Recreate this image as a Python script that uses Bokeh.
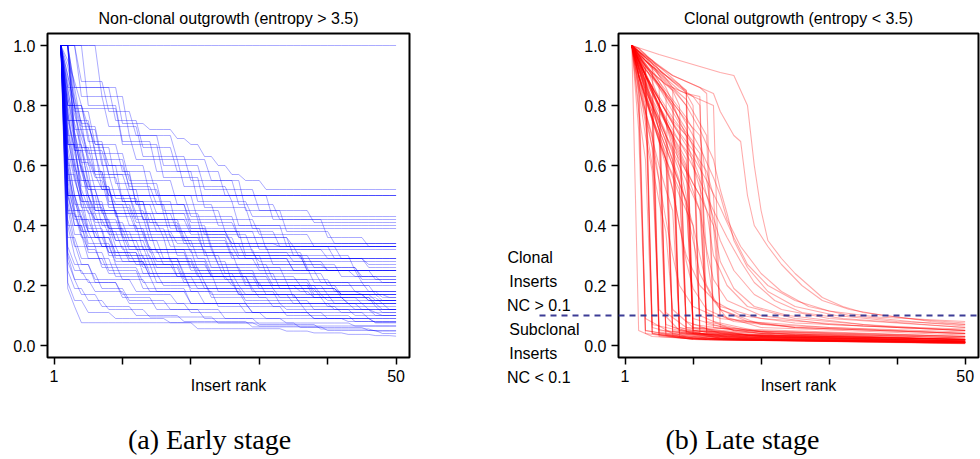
import numpy as np
from bokeh.plotting import figure
from bokeh.layouts import row, column
from bokeh.models import LinearAxis, FixedTicker, ColumnDataSource, Range1d, Span, Label
from bokeh.embed import file_html
from bokeh.resources import INLINE

# ---------------- data ----------------
RANKS = list(range(1, 51))
X_TICKS = [0, 10, 20, 30, 40, 50]
X_TICK_LABELS = {0: "1", 10: "", 20: "", 30: "", 40: "", 50: "50"}
Y_TICKS = [0.0, 0.2, 0.4, 0.6, 0.8, 1.0]
Y_TICK_LABELS = {0.0: "0.0", 0.2: "0.2", 0.4: "0.4", 0.6: "0.6", 0.8: "0.8", 1.0: "1.0"}
NC_THRESHOLD = 0.1

TITLE_A = "Non-clonal outgrowth (entropy > 3.5)"
TITLE_B = "Clonal outgrowth (entropy < 3.5)"
X_LABEL = "Insert rank"
CAPTION_A = "(a) Early stage"
CAPTION_B = "(b) Late stage"
SIDE_LINES_ABOVE = ["Clonal", "Inserts", "NC > 0.1"]
SIDE_LINES_BELOW = ["Subclonal", "Inserts", "NC < 0.1"]
SIDE_LABEL_POS = [0.213, -0.027]

# Early stage: each curve is a run-length list of (rank where a new value starts, NC value)
EARLY_STEPS = [
    [(1, 1.0)],
    [(1, 1.0), (2, 0.50)],
    [(1, 1.0), (2, 0.50)],
    [(1, 1.0), (2, 0.67), (4, 0.50)],
    [(1, 1.0), (3, 0.86), (10, 0.74), (14, 0.72), (18, 0.69), (20, 0.67), (22, 0.63), (24, 0.60), (26, 0.57), (28, 0.55), (31, 0.52)],
    [(1, 1.0), (2, 0.80), (5, 0.70), (12, 0.62), (19, 0.53), (26, 0.48), (29, 0.43)],
    [(1, 1.0), (4, 0.83), (8, 0.73), (13, 0.63), (20, 0.55), (27, 0.47), (33, 0.42)],
    [(1, 1.0), (2, 0.75), (6, 0.64), (11, 0.55), (18, 0.47), (24, 0.40)],
    [(1, 1.0), (3, 0.79), (10, 0.67), (16, 0.56), (22, 0.46), (29, 0.39)],
    [(1, 1.0), (2, 0.62), (5, 0.50), (12, 0.42), (20, 0.37), (26, 0.34)],
    [(1, 1.0), (2, 0.70), (4, 0.58), (8, 0.47), (15, 0.40), (23, 0.33)],
    [(1, 1.0), (3, 0.72), (7, 0.60), (14, 0.50), (21, 0.42), (30, 0.37), (38, 0.33)],
    [(1, 1.0), (2, 0.55), (6, 0.45), (14, 0.38), (30, 0.32)],
    [(1, 1.0), (2, 0.80), (4, 0.66), (9, 0.54), (16, 0.45), (25, 0.38), (33, 0.33), (41, 0.29)],
    [(1, 1.0), (2, 0.60), (5, 0.47), (11, 0.40), (19, 0.34), (28, 0.29)],
    [(1, 1.0), (2, 0.50), (4, 0.42), (10, 0.36), (20, 0.31), (35, 0.28)],
    [(1, 1.0), (3, 0.70), (6, 0.58), (12, 0.47), (20, 0.39), (31, 0.32), (40, 0.29), (46, 0.26)],
    [(1, 1.0), (2, 0.67), (4, 0.53), (9, 0.44), (17, 0.36), (26, 0.30), (37, 0.25)],
    [(1, 1.0), (2, 0.45), (5, 0.38), (12, 0.32), (24, 0.27), (40, 0.25)],
    [(1, 1.0), (2, 0.75), (5, 0.60), (10, 0.48), (18, 0.38), (28, 0.30), (38, 0.26), (45, 0.23)],
    [(1, 1.0), (2, 0.57), (4, 0.46), (8, 0.38), (15, 0.31), (27, 0.25), (39, 0.21)],
    [(1, 1.0), (3, 0.65), (7, 0.52), (13, 0.42), (22, 0.33), (32, 0.27), (42, 0.23), (48, 0.21)],
    [(1, 1.0), (2, 0.40), (5, 0.33), (11, 0.28), (23, 0.23), (36, 0.20)],
    [(1, 1.0), (2, 0.62), (4, 0.48), (8, 0.39), (14, 0.32), (23, 0.26), (34, 0.21), (44, 0.18)],
    [(1, 1.0), (2, 0.50), (3, 0.40), (7, 0.33), (14, 0.27), (25, 0.22), (38, 0.18)],
    [(1, 1.0), (2, 0.80), (4, 0.62), (8, 0.48), (14, 0.38), (22, 0.30), (31, 0.24), (40, 0.20), (47, 0.17)],
    [(1, 1.0), (2, 0.44), (4, 0.36), (9, 0.29), (18, 0.23), (30, 0.19), (42, 0.17)],
    [(1, 1.0), (2, 0.67), (4, 0.50), (7, 0.40), (13, 0.32), (21, 0.25), (30, 0.20), (39, 0.17), (46, 0.15)],
    [(1, 1.0), (2, 0.36), (4, 0.29), (8, 0.24), (16, 0.20), (28, 0.17), (40, 0.15)],
    [(1, 1.0), (2, 0.57), (3, 0.45), (6, 0.36), (11, 0.29), (19, 0.23), (29, 0.18), (38, 0.16), (45, 0.14)],
    [(1, 1.0), (2, 0.50), (4, 0.38), (8, 0.30), (14, 0.24), (22, 0.19), (33, 0.16), (43, 0.14)],
    [(1, 1.0), (2, 0.72), (3, 0.58), (6, 0.45), (10, 0.36), (17, 0.28), (26, 0.21), (35, 0.16), (43, 0.14), (48, 0.12)],
    [(1, 1.0), (2, 0.42), (3, 0.33), (7, 0.26), (13, 0.21), (23, 0.17), (35, 0.14), (44, 0.12)],
    [(1, 1.0), (2, 0.60), (3, 0.47), (5, 0.38), (9, 0.30), (15, 0.24), (24, 0.18), (33, 0.14), (41, 0.12), (47, 0.11)],
    [(1, 1.0), (2, 0.33), (3, 0.27), (6, 0.22), (12, 0.18), (22, 0.14), (34, 0.12), (44, 0.10)],
    [(1, 1.0), (2, 0.55), (3, 0.43), (5, 0.34), (9, 0.27), (15, 0.21), (23, 0.16), (32, 0.13), (42, 0.11), (48, 0.10)],
    [(1, 1.0), (2, 0.31), (3, 0.25), (5, 0.21), (10, 0.17), (18, 0.14), (29, 0.11), (40, 0.09)],
    [(1, 1.0), (2, 0.64), (3, 0.50), (5, 0.39), (8, 0.31), (13, 0.24), (20, 0.18), (28, 0.14), (37, 0.11), (46, 0.09)],
    [(1, 1.0), (2, 0.48), (3, 0.37), (5, 0.29), (9, 0.23), (15, 0.18), (24, 0.13), (34, 0.10), (44, 0.08)],
    [(1, 1.0), (2, 0.28), (3, 0.22), (6, 0.18), (11, 0.14), (20, 0.11), (31, 0.09), (43, 0.08)],
    [(1, 1.0), (2, 0.52), (3, 0.40), (5, 0.31), (8, 0.25), (13, 0.19), (20, 0.14), (29, 0.11), (38, 0.09), (47, 0.076)],
    [(1, 1.0), (2, 0.19), (3, 0.13), (4, 0.076), (21, 0.056), (34, 0.048), (38, 0.042), (43, 0.037), (47, 0.033), (50, 0.031)],
    [(1, 1.0), (2, 0.21), (3, 0.15), (5, 0.11), (9, 0.09), (17, 0.076), (30, 0.065)],
    [(1, 1.0), (2, 0.40), (3, 0.30), (4, 0.24), (7, 0.19), (11, 0.15), (17, 0.12), (25, 0.09), (34, 0.075), (44, 0.065)],
    [(1, 1.0), (2, 0.25), (3, 0.19), (5, 0.15), (8, 0.12), (14, 0.095), (24, 0.075), (36, 0.06), (46, 0.05)],
    [(1, 1.0), (2, 0.46), (3, 0.34), (4, 0.27), (6, 0.21), (10, 0.16), (15, 0.12), (22, 0.09), (30, 0.07), (39, 0.055), (47, 0.048)],
    [(1, 1.0), (2, 0.30), (3, 0.22), (4, 0.17), (7, 0.13), (12, 0.10), (19, 0.08), (29, 0.062), (40, 0.05), (48, 0.04)],
    [(1, 1.0), (3, 0.86), (9, 0.75), (13, 0.66), (18, 0.58), (25, 0.50), (32, 0.42), (40, 0.36), (46, 0.33)],
    [(1, 1.0), (4, 0.88), (8, 0.78), (12, 0.70), (18, 0.62), (23, 0.55), (28, 0.45), (34, 0.38), (41, 0.34)],
    [(1, 1.0), (7, 0.83), (11, 0.70), (16, 0.60), (22, 0.52), (30, 0.45), (38, 0.41)],
    [(1, 1.0), (5, 0.80), (10, 0.68), (15, 0.58), (21, 0.48), (27, 0.40), (34, 0.33), (42, 0.29)],
    [(1, 1.0), (3, 0.78), (6, 0.67), (10, 0.58), (15, 0.50), (20, 0.43), (27, 0.36), (35, 0.30), (44, 0.25)],
    [(1, 1.0), (2, 0.86), (4, 0.73), (7, 0.62), (11, 0.52), (16, 0.44), (22, 0.37), (29, 0.31), (37, 0.26), (45, 0.22)],
    [(1, 1.0), (2, 0.78), (3, 0.65), (5, 0.55), (8, 0.46), (12, 0.39), (17, 0.33), (24, 0.27), (32, 0.22), (41, 0.18), (48, 0.16)],
    [(1, 1.0), (2, 0.70), (3, 0.56), (4, 0.47), (6, 0.40), (9, 0.33), (13, 0.27), (19, 0.22), (27, 0.17), (36, 0.14), (45, 0.12)],
    [(1, 1.0), (2, 0.83), (3, 0.71), (4, 0.61), (6, 0.52), (9, 0.44), (13, 0.37), (18, 0.30), (25, 0.24), (33, 0.19), (42, 0.16), (48, 0.14)],
    [(1, 1.0), (2, 0.90), (3, 0.80), (5, 0.68), (8, 0.57), (12, 0.47), (17, 0.39), (23, 0.32), (30, 0.26), (38, 0.21), (46, 0.18)],
    [(1, 1.0), (3, 0.67), (5, 0.53), (9, 0.43), (14, 0.35), (21, 0.29), (30, 0.25)],
    [(1, 1.0), (2, 0.50), (6, 0.44), (12, 0.38), (18, 0.34)],
    [(1, 1.0), (2, 0.75), (3, 0.66), (5, 0.58), (8, 0.50), (12, 0.44), (18, 0.38), (26, 0.33), (36, 0.29), (46, 0.27)],
    [(1, 1.0), (2, 0.85), (3, 0.74), (4, 0.66), (6, 0.57), (9, 0.49), (13, 0.42), (19, 0.36), (27, 0.30), (37, 0.25), (47, 0.22)],
    [(1, 1.0), (2, 0.66), (3, 0.55), (4, 0.48), (6, 0.41), (9, 0.35), (14, 0.29), (21, 0.24), (30, 0.20), (40, 0.17), (48, 0.15)],
    [(1, 1.0), (2, 0.93), (3, 0.82), (4, 0.72), (5, 0.64), (7, 0.56), (10, 0.48), (14, 0.41), (19, 0.35), (26, 0.29), (35, 0.25), (45, 0.21)],
    [(1, 1.0), (2, 0.58), (3, 0.48), (4, 0.42), (6, 0.36), (9, 0.31), (13, 0.26), (19, 0.21), (27, 0.17), (36, 0.14), (46, 0.12)],
    [(1, 1.0), (2, 0.88), (3, 0.77), (4, 0.69), (5, 0.62), (6, 0.56), (8, 0.50), (11, 0.44), (15, 0.38), (20, 0.33), (27, 0.29), (35, 0.25), (44, 0.23)],
    [(1, 1.0), (2, 0.80), (3, 0.68), (4, 0.59), (5, 0.52), (7, 0.45), (10, 0.38), (14, 0.32), (20, 0.26), (28, 0.21), (38, 0.17), (47, 0.15)],
    [(1, 1.0), (2, 0.69), (3, 0.58), (4, 0.50), (5, 0.44), (7, 0.38), (10, 0.32), (15, 0.26), (22, 0.21), (31, 0.17), (41, 0.14), (49, 0.12)],
    [(1, 1.0), (2, 0.95), (3, 0.88), (4, 0.80), (5, 0.73), (6, 0.67), (8, 0.60), (11, 0.53), (15, 0.47), (20, 0.41), (27, 0.36), (35, 0.33)],
    [(1, 1.0), (2, 0.53), (3, 0.44), (4, 0.38), (6, 0.33), (9, 0.28), (14, 0.23), (21, 0.19), (30, 0.16), (40, 0.13), (48, 0.11)],
    [(1, 1.0), (2, 0.77), (3, 0.64), (4, 0.55), (6, 0.47), (8, 0.41), (11, 0.35), (16, 0.29), (23, 0.24), (32, 0.20), (42, 0.17), (49, 0.16)],
    [(1, 1.0), (2, 0.90), (3, 0.80), (4, 0.71), (5, 0.63), (6, 0.57), (7, 0.52), (9, 0.47), (12, 0.41), (16, 0.36), (22, 0.31), (30, 0.28), (40, 0.25)],
    [(1, 1.0), (2, 0.62), (3, 0.50), (4, 0.43), (5, 0.38), (7, 0.33), (10, 0.28), (14, 0.23), (20, 0.19), (28, 0.15), (38, 0.12), (47, 0.10)],
    [(1, 1.0), (2, 0.86), (3, 0.71), (4, 0.60), (5, 0.52), (7, 0.44), (10, 0.37), (14, 0.31), (20, 0.25), (28, 0.20), (38, 0.16), (47, 0.13)],
    [(1, 1.0), (2, 0.73), (3, 0.60), (4, 0.52), (5, 0.46), (6, 0.42), (8, 0.37), (11, 0.32), (16, 0.27), (23, 0.23), (32, 0.19), (42, 0.17)],
    [(1, 1.0), (3, 0.83), (4, 0.74), (6, 0.65), (8, 0.57), (11, 0.50), (15, 0.44), (20, 0.38), (26, 0.34), (33, 0.33)],
    [(1, 1.0), (2, 0.50), (3, 0.42), (5, 0.36), (8, 0.31), (12, 0.27), (18, 0.23), (26, 0.20), (36, 0.18), (45, 0.17)],
    [(1, 1.0), (2, 0.83), (3, 0.69), (4, 0.58), (5, 0.50), (6, 0.45), (8, 0.39), (11, 0.33), (15, 0.28), (21, 0.23), (29, 0.19), (39, 0.16), (47, 0.14)],
    [(1, 1.0), (2, 0.60), (3, 0.45), (4, 0.37), (5, 0.32), (7, 0.27), (10, 0.22), (14, 0.18), (20, 0.14), (28, 0.11), (38, 0.09), (47, 0.076)],
    [(1, 1.0), (2, 0.78), (3, 0.60), (4, 0.50), (6, 0.42), (9, 0.35), (13, 0.29), (19, 0.24), (27, 0.20), (37, 0.17), (46, 0.15)],
]

# Late stage: each curve is a list of (rank, NC value) vertices
LATE_CURVES = [
    [(1, 1.0), (2, 0.05), (4, 0.03), (12, 0.02), (50, 0.012)],
    [(1, 1.0), (2, 0.92), (3, 0.04), (8, 0.025), (50, 0.01)],
    [(1, 1.0), (2, 0.95), (3, 0.88), (4, 0.04), (10, 0.02), (50, 0.008)],
    [(1, 1.0), (2, 0.90), (3, 0.80), (4, 0.06), (9, 0.03), (50, 0.015)],
    [(1, 1.0), (2, 0.96), (3, 0.90), (4, 0.84), (5, 0.045), (12, 0.025), (50, 0.012)],
    [(1, 1.0), (2, 0.93), (3, 0.85), (4, 0.75), (5, 0.05), (15, 0.03), (50, 0.02)],
    [(1, 1.0), (2, 0.97), (3, 0.93), (4, 0.88), (5, 0.82), (6, 0.04), (14, 0.02), (50, 0.01)],
    [(1, 1.0), (2, 0.90), (3, 0.78), (4, 0.66), (5, 0.55), (6, 0.07), (10, 0.04), (50, 0.02)],
    [(1, 1.0), (2, 0.95), (3, 0.88), (4, 0.80), (5, 0.72), (6, 0.62), (7, 0.05), (14, 0.025), (50, 0.012)],
    [(1, 1.0), (2, 0.98), (3, 0.95), (4, 0.92), (5, 0.88), (6, 0.84), (7, 0.035), (12, 0.02), (50, 0.008)],
    [(1, 1.0), (3, 0.90), (5, 0.80), (7, 0.70), (8, 0.06), (13, 0.03), (50, 0.015)],
    [(1, 1.0), (3, 0.94), (5, 0.87), (7, 0.80), (8, 0.04), (16, 0.02), (50, 0.01)],
    [(1, 1.0), (2, 0.93), (4, 0.80), (6, 0.68), (8, 0.55), (9, 0.08), (14, 0.04), (50, 0.02)],
    [(1, 1.0), (3, 0.95), (5, 0.90), (7, 0.85), (8, 0.80), (9, 0.045), (18, 0.025), (50, 0.012)],
    [(1, 1.0), (3, 0.90), (5, 0.82), (7, 0.75), (9, 0.70), (10, 0.05), (20, 0.03), (50, 0.015)],
    [(1, 1.0), (3, 0.96), (5, 0.92), (7, 0.88), (9, 0.85), (10, 0.04), (18, 0.02), (50, 0.01)],
    [(1, 1.0), (2, 0.90), (4, 0.75), (6, 0.62), (8, 0.50), (10, 0.40), (11, 0.10), (16, 0.05), (50, 0.025)],
    [(1, 1.0), (3, 0.93), (6, 0.87), (9, 0.84), (11, 0.83), (12, 0.05), (20, 0.03), (50, 0.015)],
    [(1, 1.0), (3, 0.85), (6, 0.70), (9, 0.58), (11, 0.50), (12, 0.07), (22, 0.04), (50, 0.02)],
    [(1, 1.0), (2, 0.85), (3, 0.70), (4, 0.58), (5, 0.12), (8, 0.05), (50, 0.02)],
    [(1, 1.0), (2, 0.80), (3, 0.09), (7, 0.04), (50, 0.015)],
    [(1, 1.0), (2, 0.88), (3, 0.74), (4, 0.60), (5, 0.48), (6, 0.38), (7, 0.12), (10, 0.06), (50, 0.03)],
    [(1, 1.0), (3, 0.86), (5, 0.72), (7, 0.60), (9, 0.48), (10, 0.40), (11, 0.30), (12, 0.20), (14, 0.12), (18, 0.08), (30, 0.06), (50, 0.045)],
    [(1, 1.0), (3, 0.90), (5, 0.80), (7, 0.68), (9, 0.58), (11, 0.45), (12, 0.32), (13, 0.22), (15, 0.15), (20, 0.10), (30, 0.07), (50, 0.05)],
    [(1, 1.0), (4, 0.90), (7, 0.80), (9, 0.70), (10, 0.60), (12, 0.45), (13, 0.30), (15, 0.20), (18, 0.13), (25, 0.09), (40, 0.06), (50, 0.05)],
    [(1, 1.0), (3, 0.92), (6, 0.83), (9, 0.72), (11, 0.60), (12, 0.50), (14, 0.35), (16, 0.25), (19, 0.17), (23, 0.12), (30, 0.09), (50, 0.06)],
    [(1, 1.0), (5, 0.97), (8, 0.95), (11, 0.93), (14, 0.91), (16, 0.90), (17, 0.85), (18, 0.80), (19, 0.60), (20, 0.45), (21, 0.35), (23, 0.29), (25, 0.24), (27, 0.20), (29, 0.16), (32, 0.13), (35, 0.11), (40, 0.095), (45, 0.08), (50, 0.07)],
    [(1, 1.0), (4, 0.95), (7, 0.90), (10, 0.87), (13, 0.84), (14, 0.78), (16, 0.70), (17, 0.68), (18, 0.50), (19, 0.40), (21, 0.33), (23, 0.27), (26, 0.20), (29, 0.15), (33, 0.12), (38, 0.10), (44, 0.085), (50, 0.075)],
    [(1, 1.0), (3, 0.88), (6, 0.76), (9, 0.64), (11, 0.55), (13, 0.45), (15, 0.36), (17, 0.28), (19, 0.21), (22, 0.15), (26, 0.11), (32, 0.09), (50, 0.06)],
    [(1, 1.0), (4, 0.90), (8, 0.78), (11, 0.66), (13, 0.56), (14, 0.50), (15, 0.42), (17, 0.33), (20, 0.24), (23, 0.18), (27, 0.13), (33, 0.10), (42, 0.08), (50, 0.065)],
    [(1, 1.0), (3, 0.92), (6, 0.84), (9, 0.75), (11, 0.70), (12, 0.55), (13, 0.40), (14, 0.28), (16, 0.19), (19, 0.13), (24, 0.10), (35, 0.07), (50, 0.05)],
    [(1, 1.0), (2, 0.90), (4, 0.76), (6, 0.62), (7, 0.52), (8, 0.40), (9, 0.28), (10, 0.19), (12, 0.12), (16, 0.08), (25, 0.06), (50, 0.04)],
    [(1, 1.0), (2, 0.94), (4, 0.82), (6, 0.70), (8, 0.58), (9, 0.46), (10, 0.35), (11, 0.24), (13, 0.15), (17, 0.10), (25, 0.075), (50, 0.05)],
    [(1, 1.0), (3, 0.84), (5, 0.68), (7, 0.52), (8, 0.40), (9, 0.30), (11, 0.20), (14, 0.13), (20, 0.09), (35, 0.065), (50, 0.055)],
    [(1, 1.0), (3, 0.95), (6, 0.88), (9, 0.80), (11, 0.72), (13, 0.62), (14, 0.52), (15, 0.44), (16, 0.35), (18, 0.26), (21, 0.18), (25, 0.13), (31, 0.10), (40, 0.08), (50, 0.07)],
    [(1, 1.0), (2, 0.86), (4, 0.70), (5, 0.55), (6, 0.42), (7, 0.30), (8, 0.20), (10, 0.13), (14, 0.09), (25, 0.06), (50, 0.04)],
    [(1, 1.0), (4, 0.86), (7, 0.74), (10, 0.63), (12, 0.55), (14, 0.46), (16, 0.36), (18, 0.27), (21, 0.20), (25, 0.15), (30, 0.115), (37, 0.095), (50, 0.08)],
    [(1, 1.0), (3, 0.90), (5, 0.80), (7, 0.70), (8, 0.60), (9, 0.50), (10, 0.06), (18, 0.035), (50, 0.02)],
    [(1, 1.0), (2, 0.97), (4, 0.90), (6, 0.82), (8, 0.74), (10, 0.68), (11, 0.04), (20, 0.02), (50, 0.01)],
    [(1, 1.0), (2, 0.95), (4, 0.85), (6, 0.74), (7, 0.66), (8, 0.05), (15, 0.03), (50, 0.015)],
    [(1, 1.0), (2, 0.87), (3, 0.76), (4, 0.66), (5, 0.03), (12, 0.02), (50, 0.008)],
    [(1, 1.0), (2, 0.98), (4, 0.95), (6, 0.91), (8, 0.87), (9, 0.84), (10, 0.80), (11, 0.06), (18, 0.035), (50, 0.02)],
    [(1, 1.0), (2, 0.96), (3, 0.90), (5, 0.79), (7, 0.70), (9, 0.62), (10, 0.05), (17, 0.03), (50, 0.015)],
    [(1, 1.0), (2, 0.90), (3, 0.82), (5, 0.70), (6, 0.64), (7, 0.06), (12, 0.035), (50, 0.018)],
    [(1, 1.0), (2, 0.84), (3, 0.05), (9, 0.025), (50, 0.01)],
    [(1, 1.0), (2, 0.97), (3, 0.92), (4, 0.07), (10, 0.04), (50, 0.02)],
    [(1, 1.0), (2, 0.94), (3, 0.87), (4, 0.81), (5, 0.74), (6, 0.68), (7, 0.62), (8, 0.04), (14, 0.02), (50, 0.01)],
    [(1, 1.0), (3, 0.96), (5, 0.93), (7, 0.90), (9, 0.88), (11, 0.86), (12, 0.84), (13, 0.08), (20, 0.045), (50, 0.025)],
    [(1, 1.0), (2, 0.91), (3, 0.83), (4, 0.76), (5, 0.70), (6, 0.05), (13, 0.03), (50, 0.012)],
    [(1, 1.0), (2, 0.78), (3, 0.62), (4, 0.04), (10, 0.02), (50, 0.008)],
    [(1, 1.0), (2, 0.99), (3, 0.97), (4, 0.94), (5, 0.90), (6, 0.86), (7, 0.81), (8, 0.75), (9, 0.04), (16, 0.02), (50, 0.01)],
    [(1, 1.0), (2, 0.93), (4, 0.82), (6, 0.74), (8, 0.68), (10, 0.62), (11, 0.56), (12, 0.05), (22, 0.03), (50, 0.015)],
    [(1, 1.0), (2, 0.88), (3, 0.78), (4, 0.69), (5, 0.60), (6, 0.52), (7, 0.45), (8, 0.06), (14, 0.035), (50, 0.02)],
    [(1, 1.0), (2, 0.96), (3, 0.91), (4, 0.86), (5, 0.80), (6, 0.75), (7, 0.70), (8, 0.65), (9, 0.60), (10, 0.07), (20, 0.04), (50, 0.025)],
    [(1, 1.0), (2, 0.72), (3, 0.05), (10, 0.025), (50, 0.01)],
    [(1, 1.0), (2, 0.98), (3, 0.96), (4, 0.93), (5, 0.04), (11, 0.02), (50, 0.006)],
    [(1, 1.0), (2, 0.90), (3, 0.84), (4, 0.78), (5, 0.72), (6, 0.66), (7, 0.60), (8, 0.54), (9, 0.48), (10, 0.09), (16, 0.05), (50, 0.03)],
    [(1, 1.0), (2, 0.95), (4, 0.86), (6, 0.78), (8, 0.71), (10, 0.65), (12, 0.58), (13, 0.50), (14, 0.10), (20, 0.06), (50, 0.035)],
    [(1, 1.0), (3, 0.90), (5, 0.83), (7, 0.76), (9, 0.70), (11, 0.64), (12, 0.30), (13, 0.15), (15, 0.09), (25, 0.06), (50, 0.04)],
    [(1, 1.0), (2, 0.92), (4, 0.80), (5, 0.72), (6, 0.11), (9, 0.06), (20, 0.04), (50, 0.03)],
    [(1, 1.0), (2, 0.97), (4, 0.93), (6, 0.90), (8, 0.87), (9, 0.85), (10, 0.05), (18, 0.03), (50, 0.015)],
    [(1, 1.0), (2, 0.96), (4, 0.91), (6, 0.87), (7, 0.85), (8, 0.03), (15, 0.02), (50, 0.01)],
    [(1, 1.0), (2, 0.95), (3, 0.92), (5, 0.87), (6, 0.035), (12, 0.02), (50, 0.01)],
    [(1, 1.0), (2, 0.98), (4, 0.94), (6, 0.90), (8, 0.86), (10, 0.83), (11, 0.80), (12, 0.04), (20, 0.025), (50, 0.012)],
    [(1, 1.0), (2, 0.94), (3, 0.90), (4, 0.86), (5, 0.82), (6, 0.78), (7, 0.74), (8, 0.70), (9, 0.06), (16, 0.035), (50, 0.02)],
    [(1, 1.0), (2, 0.90), (3, 0.83), (4, 0.78), (5, 0.035), (10, 0.02), (50, 0.01)],
    [(1, 1.0), (2, 0.97), (3, 0.94), (4, 0.91), (5, 0.88), (6, 0.85), (7, 0.82), (8, 0.79), (9, 0.76), (10, 0.72), (11, 0.05), (20, 0.03), (50, 0.015)],
    [(1, 1.0), (2, 0.93), (3, 0.87), (4, 0.81), (5, 0.76), (6, 0.71), (7, 0.045), (14, 0.025), (50, 0.012)],
    [(1, 1.0), (3, 0.95), (5, 0.91), (7, 0.86), (9, 0.82), (10, 0.78), (11, 0.74), (12, 0.70), (13, 0.06), (22, 0.035), (50, 0.02)],
    [(1, 1.0), (2, 0.99), (3, 0.97), (4, 0.95), (5, 0.92), (6, 0.89), (7, 0.86), (8, 0.83), (9, 0.80), (10, 0.04), (17, 0.02), (50, 0.008)],
    [(1, 1.0), (2, 0.92), (3, 0.85), (4, 0.80), (5, 0.75), (6, 0.70), (7, 0.65), (8, 0.60), (9, 0.55), (10, 0.50), (11, 0.45), (12, 0.08), (18, 0.05), (50, 0.03)],
    [(1, 1.0), (2, 0.96), (3, 0.93), (4, 0.04), (9, 0.025), (50, 0.01)],
    [(1, 1.0), (2, 0.94), (3, 0.89), (4, 0.84), (5, 0.79), (6, 0.74), (7, 0.69), (8, 0.64), (9, 0.59), (10, 0.54), (11, 0.50), (12, 0.45), (13, 0.40), (14, 0.12), (20, 0.07), (50, 0.04)],
    [(1, 1.0), (2, 0.97), (3, 0.95), (4, 0.93), (5, 0.91), (6, 0.89), (7, 0.87), (8, 0.85), (9, 0.84), (10, 0.83), (11, 0.82), (12, 0.81), (13, 0.80), (14, 0.06), (25, 0.035), (50, 0.02)],
    [(1, 1.0), (2, 0.90), (3, 0.82), (4, 0.75), (5, 0.68), (6, 0.62), (7, 0.57), (8, 0.52), (9, 0.047), (15, 0.027), (50, 0.012)],
]

# ---------------- styling ----------------
FONT = "Liberation Sans"
SERIF = "Liberation Serif"
X_RANGE = (-0.96, 51.96)
Y_RANGE = (-0.04, 1.04)
DASH_COLOR = "#3c3c96"
NBSP = "\u00a0"
PANEL_H = 400
CAPTION_H = 59


def expand_steps(steps):
    """Decode a run-length list into one NC value per rank."""
    vals = []
    for k in RANKS:
        v = [val for r, val in steps if r <= k][-1]
        vals.append(v)
    return vals


def make_panel(title, width, border_left, border_right):
    p = figure(width=width, height=PANEL_H, output_backend="svg", toolbar_location=None,
               x_range=Range1d(*X_RANGE), y_range=Range1d(*Y_RANGE),
               min_border_left=border_left, min_border_right=border_right,
               min_border_top=33, min_border_bottom=43, title=title)
    p.title.align = "center"
    p.title.text_font = FONT
    p.title.text_font_size = "16px"
    p.title.text_font_style = "normal"
    p.title.text_color = "black"
    p.title.standoff = 14
    p.outline_line_color = "black"
    p.outline_line_width = 2
    p.outline_line_alpha = 1
    p.grid.visible = False
    p.background_fill_color = "white"
    p.border_fill_color = "white"
    for ax in (p.xaxis[0], p.yaxis[0]):
        ax.axis_line_color = None
        ax.major_tick_line_color = "black"
        ax.major_tick_line_width = 1.5
        ax.major_tick_out = 7
        ax.major_tick_in = 0
        ax.minor_tick_line_color = None
        ax.major_label_text_font = FONT
        ax.major_label_text_font_size = "16px"
        ax.major_label_text_color = "black"
    p.xaxis.ticker = FixedTicker(ticks=X_TICKS)
    p.xaxis.major_label_overrides = X_TICK_LABELS
    p.xaxis.major_label_standoff = 5
    p.xaxis.axis_label = X_LABEL
    p.xaxis.axis_label_standoff = -8
    p.xaxis.axis_label_text_font = FONT
    p.xaxis.axis_label_text_font_size = "16px"
    p.xaxis.axis_label_text_font_style = "normal"
    p.xaxis.axis_label_text_color = "black"
    p.yaxis.ticker = FixedTicker(ticks=Y_TICKS)
    p.yaxis.major_label_overrides = Y_TICK_LABELS
    p.yaxis.major_label_standoff = 5
    return p


# ---------------- left panel ----------------
pa = make_panel(TITLE_A, 490, 47, 81)
src_a = ColumnDataSource(dict(xs=[RANKS for _ in EARLY_STEPS],
                              ys=[expand_steps(s) for s in EARLY_STEPS]))
pa.multi_line("xs", "ys", source=src_a, line_color="#0000ff", line_alpha=0.33, line_width=1)

# ---------------- right panel ----------------
pb = make_panel(TITLE_B, 490, 128, 2)
src_b = ColumnDataSource(dict(xs=[[r for r, _ in c] for c in LATE_CURVES],
                              ys=[[v for _, v in c] for c in LATE_CURVES]))
pb.multi_line("xs", "ys", source=src_b, line_color="#ff0000", line_alpha=0.33, line_width=1.1)

# threshold line inside the frame
pb.add_layout(Span(location=NC_THRESHOLD, dimension="width", line_color=DASH_COLOR,
                   line_width=2, line_dash="6 5"))


# side annotation: two multi-line blocks, lines padded so they read left-aligned
def pad(line, n):
    return line + NBSP * n


side_above = "\n".join([pad(SIDE_LINES_ABOVE[0], 6), pad(SIDE_LINES_ABOVE[1], 5), pad(SIDE_LINES_ABOVE[2], 2)])
side_below = "\n".join([pad(SIDE_LINES_BELOW[0], 0), pad(SIDE_LINES_BELOW[1], 5), pad(SIDE_LINES_BELOW[2], 2)])

# the threshold line continues into the margin as a long dashed minor tick of this axis
side_axis = LinearAxis(ticker=FixedTicker(ticks=SIDE_LABEL_POS, minor_ticks=[NC_THRESHOLD]),
                       major_label_overrides={SIDE_LABEL_POS[0]: side_above,
                                              SIDE_LABEL_POS[1]: side_below},
                       axis_line_color=None, major_tick_line_color=None, major_tick_out=0,
                       major_tick_in=0,
                       minor_tick_line_color=DASH_COLOR, minor_tick_line_width=2,
                       minor_tick_line_dash="6 5", minor_tick_out=42, minor_tick_in=35,
                       major_label_standoff=-40,
                       major_label_text_font=FONT, major_label_text_font_size="16px",
                       major_label_text_color="black", major_label_text_line_height=1.4)
pb.add_layout(side_axis, "left")

# ---------------- captions ----------------
cap = figure(width=980, height=CAPTION_H, output_backend="svg", toolbar_location=None,
             x_range=Range1d(0, 980), y_range=Range1d(0, CAPTION_H),
             x_axis_location=None, y_axis_location=None,
             min_border=0, min_border_left=0, min_border_right=0,
             min_border_top=0, min_border_bottom=0)
cap.outline_line_color = None
cap.grid.visible = False
cap.background_fill_color = "white"
cap.border_fill_color = "white"
for cx, txt in [(209, CAPTION_A), (742, CAPTION_B)]:
    cap.add_layout(Label(x=cx, y=20, text=txt, text_align="center", text_baseline="middle",
                         text_font=SERIF, text_font_size="28px", text_color="black"))

layout = column(row(pa, pb), cap)
open("out.html", "w").write(file_html(layout, INLINE))
